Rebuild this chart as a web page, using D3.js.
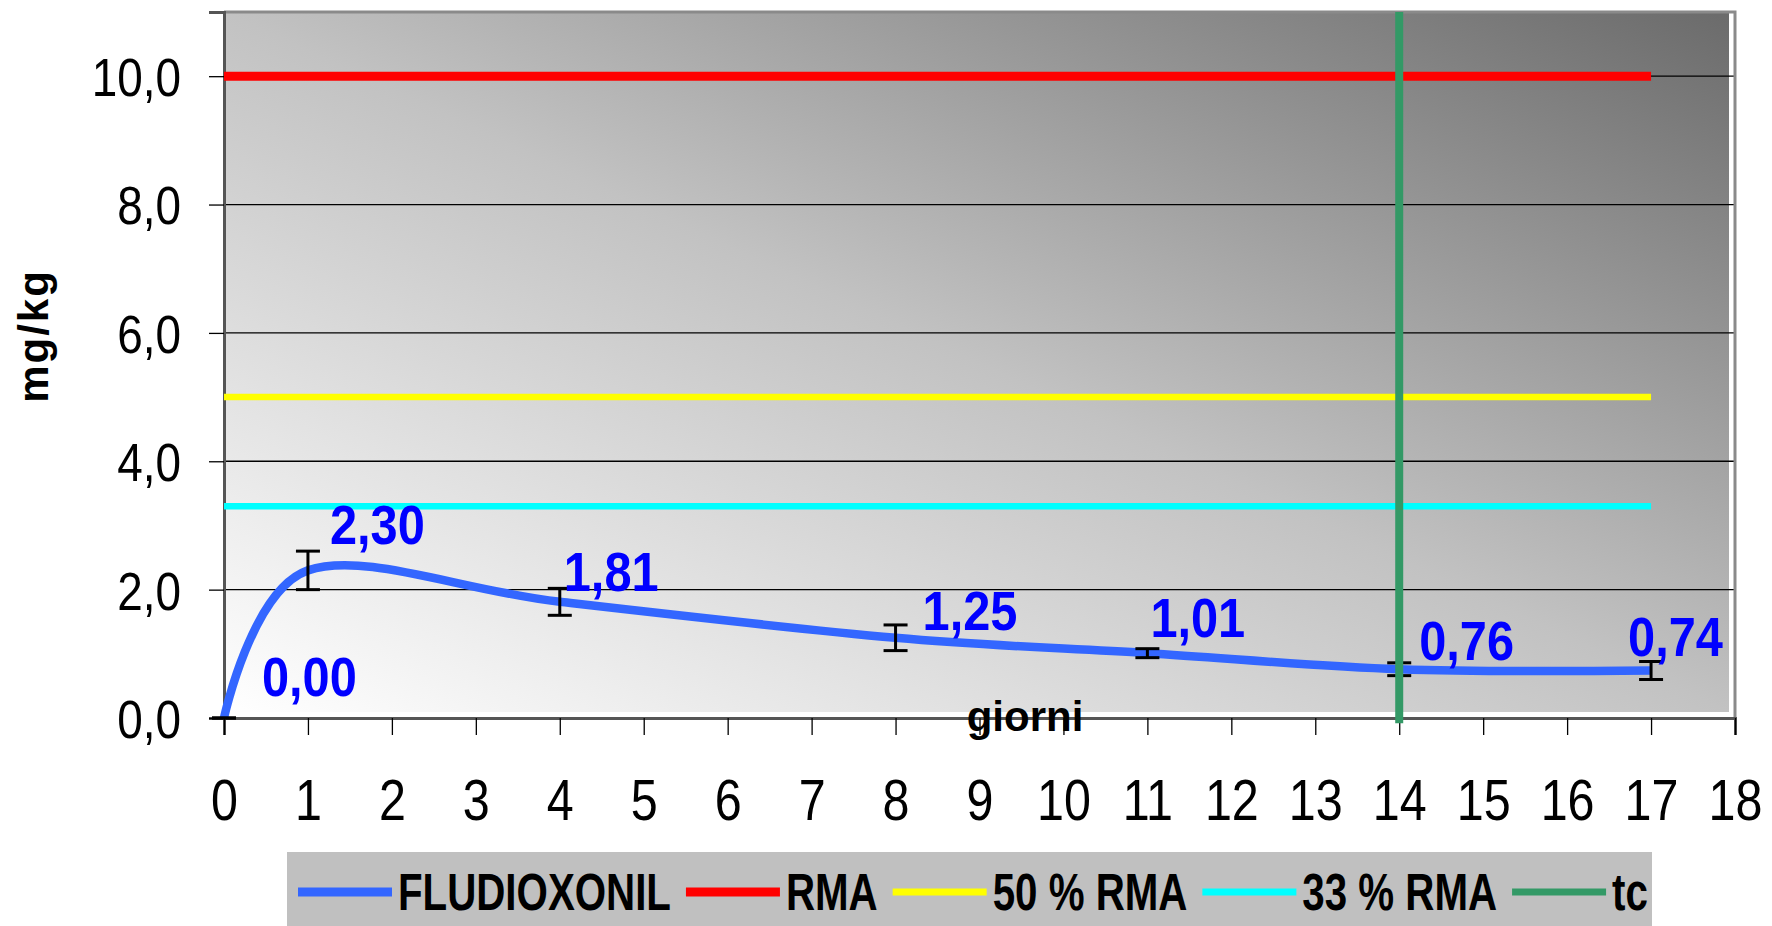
<!DOCTYPE html>
<html lang="it">
<head>
<meta charset="utf-8">
<title>Fludioxonil</title>
<script src="https://d3js.org/d3.v7.min.js"></script>
<style>
  body { margin: 0; background: #fff; }
  text { font-family: "Liberation Sans", Arial, sans-serif; }
</style>
</head>
<body>
<script>
// data
var days = [0, 1, 4, 8, 11, 14, 17];
var fludioxonil = [0.00, 2.30, 1.81, 1.25, 1.01, 0.76, 0.74];
var errors = [0, 0.30, 0.21, 0.20, 0.07, 0.10, 0.14];
var refNames = ["RMA", "50 % RMA", "33 % RMA"];
var refValues = [10, 5, 3.3];
var refEndDay = 17;
var tcDay = 14;
var xTickValues = [0, 1, 2, 3, 4, 5, 6, 7, 8, 9, 10, 11, 12, 13, 14, 15, 16, 17, 18];
var yTickValues = [0, 2, 4, 6, 8, 10];
var legendLabels = ["FLUDIOXONIL", "RMA", "50 % RMA", "33 % RMA", "tc"];

// layout only
var colors = ["#3366ff", "#ff0000", "#ffff00", "#00ffff", "#339966"];
var labelNudge = [[38, -42], [22, -47], [4, -31], [27, -28], [3, -36], [20, -29], [-23, -35]];

var width = 1772, height = 926;

var svg = d3.select("body").append("svg")
    .attr("width", width)
    .attr("height", height);

var x = d3.scaleLinear().domain([0, 18]).range([224, 1735]);
var y = d3.scaleLinear().domain([0, 11]).range([718, 12]);

var defs = svg.append("defs");
var grad = defs.append("linearGradient")
    .attr("id", "bg")
    .attr("x1", 0).attr("y1", 1).attr("x2", 1).attr("y2", 0);
grad.append("stop").attr("offset", 0).attr("stop-color", "#ffffff");
grad.append("stop").attr("offset", 0.5).attr("stop-color", "#c2c2c2");
grad.append("stop").attr("offset", 1).attr("stop-color", "#6b6b6b");

// plot background
svg.append("rect")
    .attr("x", x(0)).attr("y", y(11))
    .attr("width", x(18) - x(0) - 6)
    .attr("height", y(0) - y(11) - 6)
    .attr("fill", "url(#bg)");

// grid lines
svg.append("g")
  .selectAll("line")
  .data(yTickValues.filter(function(d) { return d > 0; }))
  .enter().append("line")
    .attr("x1", x(0)).attr("x2", x(18))
    .attr("y1", function(d) { return y(d); })
    .attr("y2", function(d) { return y(d); })
    .attr("stroke", "#000")
    .attr("stroke-width", 1.3);

// border (top/right)
svg.append("path")
    .attr("d", "M" + x(0) + "," + y(11) + "H" + x(18) + "V" + y(0))
    .attr("fill", "none")
    .attr("stroke", "#8a8a8a")
    .attr("stroke-width", 3);

function fmt(d, n) { return d3.format("." + n + "f")(d).replace(".", ","); }

// y axis
var yAxis = svg.append("g")
    .attr("transform", "translate(" + x(0) + ",0)")
    .call(d3.axisLeft(y).tickValues(yTickValues).tickSize(15).tickFormat(function(d) { return fmt(d, 1); }));
yAxis.select(".domain").attr("stroke", "#555").attr("stroke-width", 3);
yAxis.selectAll(".tick line").attr("stroke", "#000").attr("stroke-width", 1.3);
yAxis.selectAll(".tick text")
    .attr("font-size", 54)
    .attr("fill", "#000")
    .attr("x", -43 / 0.85)
    .attr("dy", "0.36em")
    .attr("transform", "scale(0.85,1)");

// x axis
var xAxis = svg.append("g")
    .attr("transform", "translate(0," + y(0) + ")")
    .call(d3.axisBottom(x).tickValues(xTickValues).tickSize(17).tickFormat(d3.format("d")));
xAxis.select(".domain").attr("stroke", "#555").attr("stroke-width", 3);
xAxis.selectAll(".tick line").attr("stroke", "#000").attr("stroke-width", 1.3);
xAxis.selectAll(".tick text")
    .attr("font-size", 57)
    .attr("fill", "#000")
    .attr("y", 62)
    .attr("dy", "0.71em")
    .attr("transform", "scale(0.85,1)");

// reference lines
svg.append("g")
  .selectAll("line")
  .data(refValues)
  .enter().append("line")
    .attr("x1", x(0)).attr("x2", x(refEndDay))
    .attr("y1", function(d) { return y(d); })
    .attr("y2", function(d) { return y(d); })
    .attr("stroke", function(d, i) { return colors[i + 1]; })
    .attr("stroke-width", function(d, i) { return i === 0 ? 9 : 6.5; });

// fludioxonil curve
var pts = days.map(function(d, i) { return [d, fludioxonil[i]]; });
var line = d3.line()
    .x(function(d) { return x(d[0]); })
    .y(function(d) { return y(d[1]); })
    .curve(d3.curveCardinal.tension(0));
svg.append("path")
    .datum(pts)
    .attr("d", line)
    .attr("fill", "none")
    .attr("stroke", colors[0])
    .attr("stroke-width", 8.5)
    .attr("stroke-linejoin", "round");

// error bars
var eb = svg.append("g").attr("stroke", "#000").attr("stroke-width", 3);
days.forEach(function(d, i) {
  var cx = x(d), hi = y(fludioxonil[i] + errors[i]), lo = y(fludioxonil[i] - errors[i]);
  eb.append("line").attr("x1", cx).attr("x2", cx).attr("y1", hi).attr("y2", lo);
  eb.append("line").attr("x1", cx - 12).attr("x2", cx + 12).attr("y1", hi).attr("y2", hi);
  eb.append("line").attr("x1", cx - 12).attr("x2", cx + 12).attr("y1", lo).attr("y2", lo);
});

// tc line
svg.append("line")
    .attr("x1", x(tcDay)).attr("x2", x(tcDay))
    .attr("y1", y(11)).attr("y2", y(-0.08))
    .attr("stroke", colors[4])
    .attr("stroke-width", 8);

// data labels
svg.append("g")
  .selectAll("text")
  .data(days)
  .enter().append("text")
    .attr("transform", function(d, i) {
      return "translate(" + (x(d) + labelNudge[i][0]) + "," + (y(fludioxonil[i]) + labelNudge[i][1]) + ") scale(0.87,1)";
    })
    .attr("dy", "0.36em")
    .attr("font-size", 56)
    .attr("font-weight", "bold")
    .attr("fill", "#0000ff")
    .text(function(d, i) { return fmt(fludioxonil[i], 2); });

// axis titles
svg.append("text")
    .attr("x", 1025).attr("y", y(0))
    .attr("dy", "0.3em")
    .attr("text-anchor", "middle")
    .attr("font-size", 42)
    .attr("font-weight", "bold")
    .text("giorni");

svg.append("text")
    .attr("transform", "translate(48,336) rotate(-90)")
    .attr("text-anchor", "middle")
    .attr("font-size", 42)
    .attr("font-weight", "bold")
    .attr("letter-spacing", 2)
    .text("mg/kg");

// legend
var legend = svg.append("g");
legend.append("rect")
    .attr("x", 287).attr("y", 852)
    .attr("width", 1652 - 287).attr("height", 74)
    .attr("fill", "#c0c0c0");

var lx = 298, ly = 892;
legendLabels.forEach(function(name, i) {
  legend.append("line")
      .attr("x1", lx).attr("x2", lx + 94)
      .attr("y1", ly).attr("y2", ly)
      .attr("stroke", colors[i])
      .attr("stroke-width", i < 2 ? 9 : 7);
  var t = legend.append("text")
      .attr("transform", "translate(" + (lx + 100) + "," + ly + ") scale(0.79,1)")
      .attr("dy", "0.36em")
      .attr("font-size", 51)
      .attr("font-weight", "bold")
      .attr("fill", "#000")
      .text(name);
  lx += 100 + t.node().getComputedTextLength() * 0.79 + 15;
});
</script>
</body>
</html>
